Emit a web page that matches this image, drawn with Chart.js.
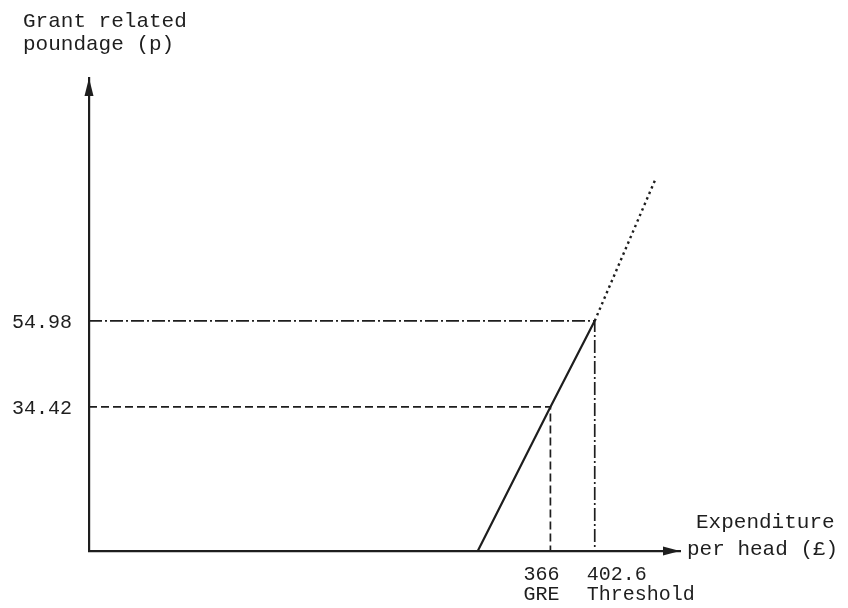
<!DOCTYPE html>
<html>
<head>
<meta charset="utf-8">
<script src="https://cdn.jsdelivr.net/npm/chart.js@4.4.1/dist/chart.umd.min.js"></script>
<style>
  html, body { margin: 0; padding: 0; background: #fff; }
  #wrap { width: 848px; height: 608px; }
</style>
</head>
<body>
<div id="wrap"><canvas id="chart" width="848" height="608"></canvas></div>
<script>
// GRP schedule
var solidX = [306, 366, 402.6];
var solidY = [0, 34.42, 54.98];
var dottedX = [402.6, 453];
var dottedY = [54.98, 89];

var greValue = 366, greGrp = 34.42;
var thresholdValue = 402.6, thresholdGrp = 54.98;

var xTickValues = [366, 402.6];
var xTickLabels = [['366', 'GRE'], ['402.6', 'Threshold']];
var yTickValues = [34.42, 54.98];
var yTickLabels = ['34.42', '54.98'];

var xAxisMin = -15, xAxisMax = 473;
var yAxisMin = 0, yAxisMax = 113;

var ink = '#1e1e1e';
var font = '20px "Liberation Mono", "DejaVu Sans Mono", monospace';
var titleFont = '21px "Liberation Mono", "DejaVu Sans Mono", monospace';

function pts(xs, ys) {
  return xs.map(function(x, i) { return {x: x, y: ys[i]}; });
}

var schedulePlugin = {
  id: 'schedule',
  afterDraw: function(chart) {
    var ctx = chart.ctx;
    var xs = chart.scales.x, ys = chart.scales.y;
    var area = chart.chartArea;
    ctx.save();
    ctx.fillStyle = ink;

    // arrow heads
    ctx.beginPath();
    ctx.moveTo(area.left, area.top);
    ctx.lineTo(area.left - 4.5, area.top + 18);
    ctx.lineTo(area.left + 4.5, area.top + 18);
    ctx.closePath();
    ctx.fill();
    ctx.beginPath();
    ctx.moveTo(area.right, area.bottom);
    ctx.lineTo(area.right - 17, area.bottom - 4.5);
    ctx.lineTo(area.right - 17, area.bottom + 4.5);
    ctx.closePath();
    ctx.fill();

    ctx.font = font;
    // y labels
    ctx.textAlign = 'right';
    ctx.textBaseline = 'middle';
    yTickValues.forEach(function(v, i) {
      ctx.fillText(yTickLabels[i], area.left - 17, ys.getPixelForValue(v) + 2);
    });

    // x labels
    var offs = [-27, -8];
    ctx.textAlign = 'left';
    ctx.textBaseline = 'alphabetic';
    xTickValues.forEach(function(v, i) {
      var px = xs.getPixelForValue(v) + offs[i];
      ctx.fillText(xTickLabels[i][0], px, area.bottom + 29);
      ctx.fillText(xTickLabels[i][1], px, area.bottom + 49);
    });

    // axis titles
    ctx.font = titleFont;
    ctx.fillText('Grant related', 23, 27);
    ctx.fillText('poundage (p)', 23, 50);
    ctx.fillText('Expenditure', area.right + 16, area.bottom - 23);
    ctx.fillText('per head (£)', area.right + 7, area.bottom + 4);
    ctx.restore();
  }
};

var ctx = document.getElementById('chart').getContext('2d');
var chart = new Chart(ctx, {
  type: 'scatter',
  data: {
    datasets: [
      {
        data: pts(solidX, solidY),
        showLine: true, borderColor: ink, borderWidth: 2.2, pointRadius: 0
      },
      {
        data: pts(dottedX, dottedY),
        showLine: true, borderColor: ink, borderWidth: 2.4, borderDash: [2.4, 3.6], pointRadius: 0
      },
      {
        data: pts([xAxisMin, greValue, greValue], [greGrp, greGrp, yAxisMin]),
        showLine: true, borderColor: ink, borderWidth: 1.7, borderDash: [8, 4], pointRadius: 0
      },
      {
        data: pts([xAxisMin, thresholdValue, thresholdValue], [thresholdGrp, thresholdGrp, yAxisMin]),
        showLine: true, borderColor: ink, borderWidth: 1.7, borderDash: [13, 3, 2, 3], pointRadius: 0
      }
    ]
  },
  options: {
    responsive: false,
    animation: false,
    layout: { padding: { left: 89, right: 168, top: 78, bottom: 57 } },
    plugins: { legend: { display: false }, tooltip: { enabled: false } },
    scales: {
      x: {
        type: 'linear', min: xAxisMin, max: xAxisMax,
        grid: { display: false, drawTicks: false },
        border: { display: true, color: ink, width: 2.2 },
        ticks: { display: false }
      },
      y: {
        type: 'linear', min: yAxisMin, max: yAxisMax,
        grid: { display: false, drawTicks: false },
        border: { display: true, color: ink, width: 2.2 },
        ticks: { display: false }
      }
    }
  },
  plugins: [schedulePlugin]
});
</script>
</body>
</html>
